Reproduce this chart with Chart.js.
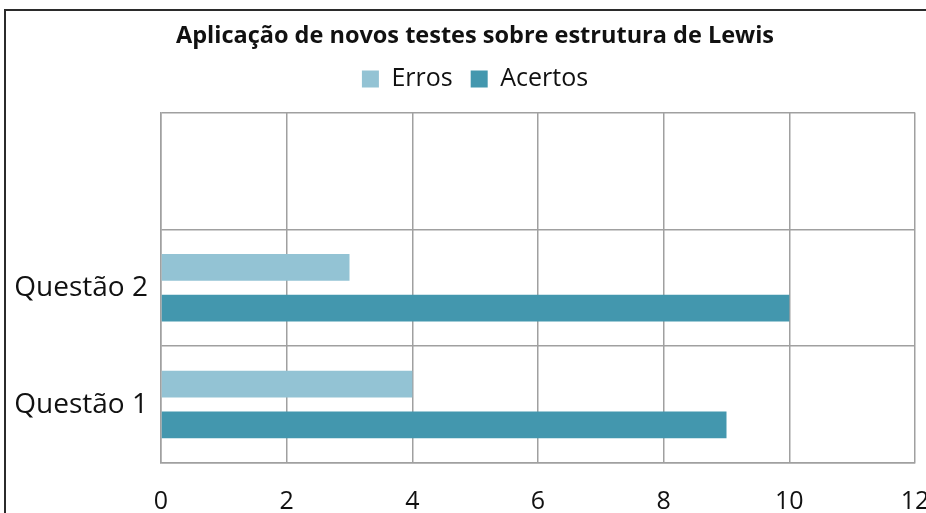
<!DOCTYPE html>
<html>
<head>
<meta charset="utf-8">
<script src="https://cdn.jsdelivr.net/npm/chart.js@4"></script>
<style>
  html, body { margin: 0; padding: 0; background: #ffffff; }
  #wrap { width: 926px; height: 513px; position: relative; }
</style>
</head>
<body>
<div id="wrap"><canvas id="c" width="926" height="513"></canvas></div>
<script>
const categories = ['', 'Questão 2', 'Questão 1'];
const erros = [null, 3, 4];
const acertos = [null, 10, 9];
const xTicks = [0, 2, 4, 6, 8, 10, 12];

const FONT = "'Open Sans', 'Noto Sans', sans-serif";

const framePlugin = {
  id: 'frame',
  beforeDraw(chart) {
    const ctx = chart.ctx;
    ctx.save();
    ctx.fillStyle = '#ffffff';
    ctx.fillRect(0, 0, chart.width, chart.height);
    ctx.strokeStyle = '#2b2b2b';
    ctx.lineWidth = 2;
    ctx.strokeRect(5, 10, 1200, 1200);
    ctx.restore();
  },
  afterLayout(chart) {
    // let the category labels extend left of the layout padding without clipping
    if (chart.scales.y) chart.scales.y.left = 0;
  }
};

new Chart(document.getElementById('c'), {
  type: 'bar',
  data: {
    labels: categories,
    datasets: [
      { label: 'Erros', data: erros, backgroundColor: '#93C3D4', borderWidth: 0 },
      { label: 'Acertos', data: acertos, backgroundColor: '#4397AE', borderWidth: 0 }
    ]
  },
  options: {
    indexAxis: 'y',
    responsive: false,
    animation: false,
    categoryPercentage: 0.697,
    barPercentage: 0.656,
    layout: { padding: { left: 24, right: 0, top: 0, bottom: 0 } },
    plugins: {
      title: {
        display: true,
        text: 'Aplicação de novos testes sobre estrutura de Lewis',
        color: '#111111',
        font: { family: FONT, size: 23.5, weight: 'bold', lineHeight: 1 },
        padding: { top: 25, bottom: 0 }
      },
      subtitle: {
        display: true,
        text: ' ',
        weight: 500,
        color: 'rgba(0,0,0,0)',
        font: { size: 1, lineHeight: 1 },
        padding: { top: 10, bottom: 0 }
      },
      legend: {
        display: true,
        position: 'top',
        labels: {
          color: '#111111',
          font: { family: FONT, size: 25 },
          boxWidth: 17,
          boxHeight: 17,
          padding: 18
        }
      },
      tooltip: { enabled: false }
    },
    scales: {
      x: {
        min: 0,
        max: 12,
        afterBuildTicks(scale) { scale.ticks = xTicks.map(v => ({ value: v })); },
        afterFit(scale) { scale.height = 50; scale.paddingRight = 11; scale.paddingLeft = 0; },
        grid: { color: '#a0a0a0', lineWidth: 1.5, drawTicks: false },
        border: { display: true, color: '#a0a0a0', width: 1.5 },
        ticks: {
          color: '#111111',
          font: { family: FONT, size: 25, lineHeight: 1 },
          padding: 26,
          maxRotation: 0
        }
      },
      y: {
        afterFit(scale) { scale.width = 137; },
        grid: { color: '#a0a0a0', lineWidth: 1.5, drawTicks: false, offset: true },
        border: { display: true, color: '#a0a0a0', width: 1.5 },
        ticks: {
          color: '#111111',
          font: { family: FONT, size: 28 },
          padding: 13
        }
      }
    }
  },
  plugins: [framePlugin]
});
</script>
</body>
</html>
